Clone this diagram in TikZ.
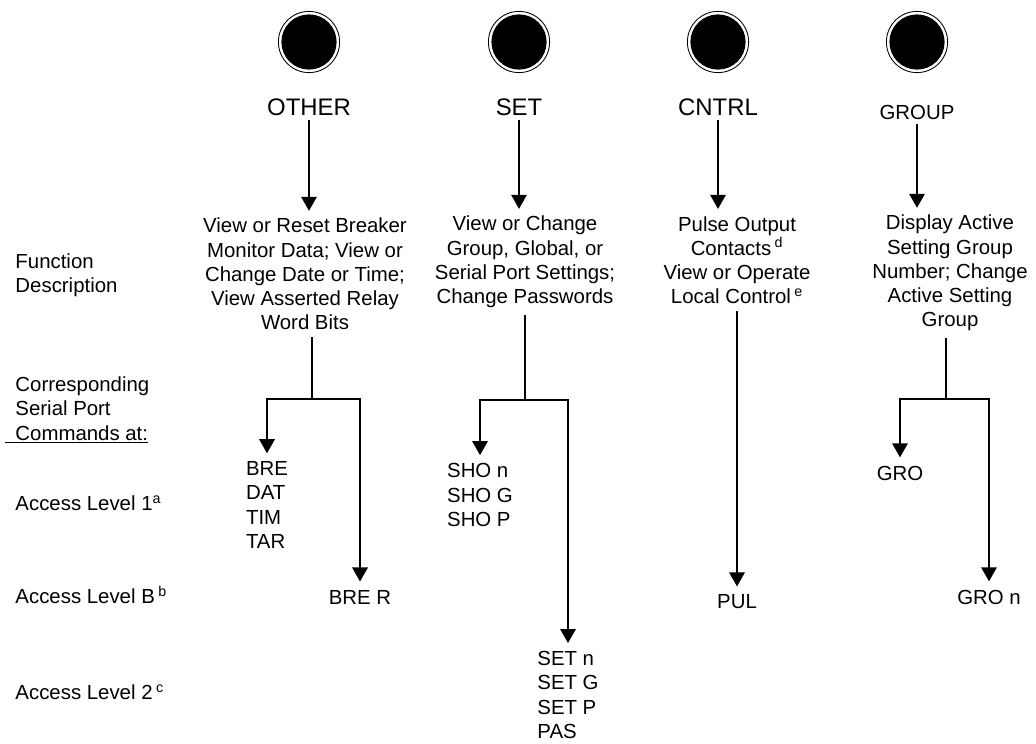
\documentclass[tikz,border=0pt]{standalone}
\usepackage{fontspec}
\setmainfont{Liberation Sans}
\usetikzlibrary{arrows.meta}

\begin{document}
\begin{tikzpicture}[x=0.025cm, y=-0.025cm,
    every node/.style={font=\fontsize{14.5}{17.2}\selectfont, inner sep=3pt},
    knob/.style={circle, draw=black, line width=0.6pt, fill=white, minimum size=1.53cm,
        path picture={\fill[black] (path picture bounding box.center) circle (0.69cm);}},
    btn/.style={font=\fontsize{17}{20}\selectfont},
    desc/.style={align=center, inner sep=5pt},
    cmd/.style={align=left, outer sep=3pt},
    flow/.style={-{Triangle[width=11pt,length=10pt]}, line width=1.2pt}]
    \useasboundingbox (0,0) rectangle (1036,743);

    % front panel buttons
    \node[knob] (other_knob) at (309,42) {};
    \node[knob] (set_knob) at (519,42) {};
    \node[knob] (cntrl_knob) at (718,42) {};
    \node[knob] (group_knob) at (917,42) {};
    \node[btn] (other) at (309,107) {OTHER};
    \node[btn] (set) at (519,107) {SET};
    \node[btn] (cntrl) at (718,107) {CNTRL};
    \node (group) at (917,112) {GROUP};

    % row headings
    \node[align=left, anchor=west] (func) at (11,275) {Function\\Description};
    \node[align=left, anchor=west] (corr) at (11,410) {Corresponding\\Serial Port\\\rlap{\kern-7.8pt\rule[-2.2pt]{101.7pt}{0.9pt}}Commands at:};
    \node[anchor=west] (lvl1) at (11,503) {Access Level 1\textsuperscript{a}};
    \node[anchor=west] (lvlb) at (11,595) {Access Level B\,\textsuperscript{b}};
    \node[anchor=west] (lvl2) at (11,692) {Access Level 2\,\textsuperscript{c}};

    % what each button does
    \node[desc] (other_desc) at (305,274) {View or Reset Breaker\\Monitor Data; View or\\Change Date or Time;\\View Asserted Relay\\Word Bits};
    \node[desc] (set_desc) at (525,262) {View or Change\\Group, Global, or\\Serial Port Settings;\\Change Passwords};
    \node[desc] (cntrl_desc) at (737,260) {Pulse Output\\Contacts\,\textsuperscript{d}\\View or Operate\\Local Control\,\textsuperscript{e}};
    \node[desc] (group_desc) at (950,273) {Display Active\\Setting Group\\Number; Change\\Active Setting\\Group};

    % serial port commands
    \node[cmd] (other_lvl1) at (267,505) {BRE\\DAT\\TIM\\TAR};
    \node[cmd] (other_lvlb) at (360,597) {BRE R};
    \node[cmd] (set_lvl1) at (480,495) {SHO n\\SHO G\\SHO P};
    \node[cmd] (set_lvl2) at (568,695) {SET n\\SET G\\SET P\\PAS};
    \node[cmd] (cntrl_lvlb) at (737,602) {PUL};
    \node[cmd] (group_lvl1) at (900,473) {GRO};
    \node[cmd] (group_lvlb) at (989,597) {GRO n};

    \coordinate (other_split) at (312,399);
    \coordinate (set_split) at (525,400);
    \coordinate (group_split) at (946,399);

    \draw[flow] (other) -- (other |- other_desc.north);
    \draw[flow] (set) -- (set |- set_desc.north);
    \draw[flow] (cntrl) -- (cntrl |- cntrl_desc.north);
    \draw[flow] (group) -- (group |- group_desc.north);

    \draw[line width=1.2pt] (other_split |- other_desc.south) -- (other_split);
        \draw[flow] (other_split) -| (other_lvl1);
        \draw[flow] (other_split) -| (other_lvlb);
    \draw[line width=1.2pt] (set_desc) -- (set_split);
        \draw[flow] (set_split) -| (set_lvl1);
        \draw[flow] (set_split) -| (set_lvl2);
    \draw[flow] (cntrl_desc) -- (cntrl_lvlb);
    \draw[line width=1.2pt] (group_split |- group_desc.south) -- (group_split);
        \draw[flow] (group_split) -| (group_lvl1);
        \draw[flow] (group_split) -| (group_lvlb);
\end{tikzpicture}
\end{document}
